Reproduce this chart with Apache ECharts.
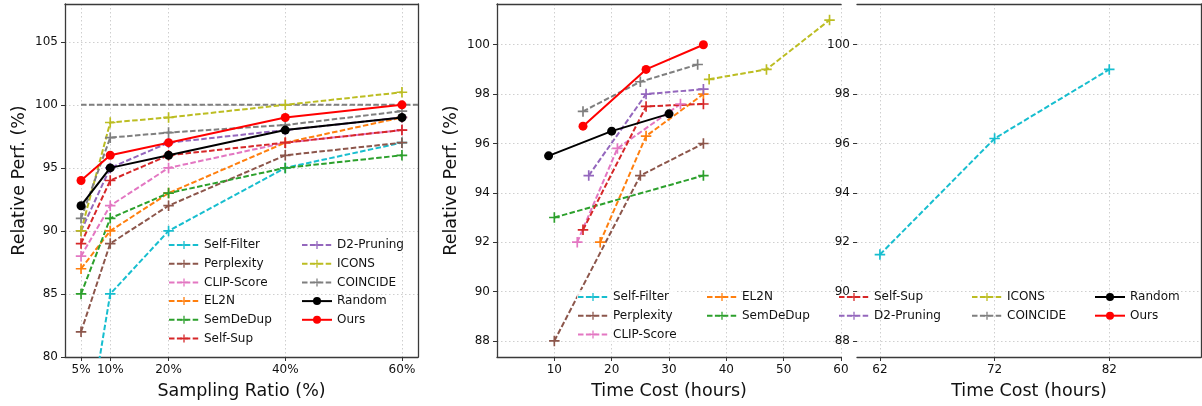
<!DOCTYPE html>
<html lang="en">
<head>
    <meta charset="UTF-8">
    <title>Relative Perf. vs Sampling Ratio / Time Cost</title>
    <script src="https://cdn.jsdelivr.net/npm/echarts@6/dist/echarts.min.js"></script>
    <style>
        html, body { margin: 0; padding: 0; background: #fff; }
        #chart { width: 1202px; height: 406px; }
    </style>
</head>
<body>
    <div id="chart"></div>
    <script>
        // ---- left panel: perf vs sampling ratio ----
        const ratios = [5, 10, 20, 40, 60];
        const ratioSelfFilter = [71, 85, 90, 95, 97];
        const ratioPerplexity = [82, 89, 92, 96, 97];
        const ratioClipScore = [88, 92, 95, 97, 98];
        const ratioEl2n = [87, 90, 93, 97, 99];
        const ratioSemDeDup = [85, 91, 93, 95, 96];
        const ratioSelfSup = [89, 94, 96, 97, 98];
        const ratioD2Pruning = [90, 95, 97, 98, 99];
        const ratioIcons = [90, 98.6, 99, 100, 101];
        const ratioCoincide = [91, 97.4, 97.8, 98.4, 99.5];
        const ratioRandom = [92, 95, 96, 98, 99];
        const ratioOurs = [94, 96, 97, 99, 100];
        const fullDataPerf = 100;

        // ---- middle/right panels: [hours, perf] ----
        const timeSelfFilter = [[62, 91.5], [72, 96.2], [82, 99]];
        const timePerplexity = [[10, 88], [25, 94.7], [36, 96]];
        const timeClipScore = [[14, 92], [21, 95.8], [32, 97.6]];
        const timeEl2n = [[18, 92], [26, 96.3], [36, 98]];
        const timeSemDeDup = [[10, 93], [36, 94.7]];
        const timeSelfSup = [[15, 92.5], [26, 97.5], [36, 97.6]];
        const timeD2Pruning = [[16, 94.7], [26, 98], [36, 98.2]];
        const timeIcons = [[37, 98.6], [47, 99], [58, 101]];
        const timeCoincide = [[15, 97.3], [25, 98.5], [35, 99.2]];
        const timeRandom = [[9, 95.5], [20, 96.5], [30, 97.2]];
        const timeOurs = [[15, 96.7], [26, 99], [36, 100]];

        // tick labels
        const ratioTicks = [5, 10, 20, 40, 60];
        const perfTicksLeft = [80, 85, 90, 95, 100, 105];
        const hourTicksMid = [10, 20, 30, 40, 50, 60];
        const hourTicksRight = [62, 72, 82];
        const perfTicksTime = [88, 90, 92, 94, 96, 98, 100];

        const methods = [
            { name: 'Self-Filter', color: '#17becf', ratio: ratioSelfFilter, time: timeSelfFilter, panel: 2 },
            { name: 'Perplexity', color: '#8c564b', ratio: ratioPerplexity, time: timePerplexity, panel: 1 },
            { name: 'CLIP-Score', color: '#e377c2', ratio: ratioClipScore, time: timeClipScore, panel: 1 },
            { name: 'EL2N', color: '#ff7f0e', ratio: ratioEl2n, time: timeEl2n, panel: 1 },
            { name: 'SemDeDup', color: '#2ca02c', ratio: ratioSemDeDup, time: timeSemDeDup, panel: 1 },
            { name: 'Self-Sup', color: '#d62728', ratio: ratioSelfSup, time: timeSelfSup, panel: 1 },
            { name: 'D2-Pruning', color: '#9467bd', ratio: ratioD2Pruning, time: timeD2Pruning, panel: 1 },
            { name: 'ICONS', color: '#bcbd22', ratio: ratioIcons, time: timeIcons, panel: 1 },
            { name: 'COINCIDE', color: '#7f7f7f', ratio: ratioCoincide, time: timeCoincide, panel: 1 },
            { name: 'Random', color: '#000000', ratio: ratioRandom, time: timeRandom, panel: 1, solid: true },
            { name: 'Ours', color: '#ff0000', ratio: ratioOurs, time: timeOurs, panel: 1, solid: true }
        ];

        const plusPath = 'path://M4.2,0 H5.8 V4.2 H10 V5.8 H5.8 V10 H4.2 V5.8 H0 V4.2 H4.2 Z';
        const spine = { show: true, lineStyle: { color: '#3a3a3a', width: 1.3 } };
        const tick = { show: true, inside: false, length: 4, lineStyle: { color: '#333', width: 1 } };
        const grid = { show: true, lineStyle: { color: '#cfcfcf', width: 1, type: [1.5, 2.5] } };
        const tickFont = { fontSize: 12, color: '#111', fontFamily: 'DejaVu Sans' };
        const nameFont = { fontSize: 17.5, color: '#111', fontFamily: 'DejaVu Sans' };

        function styleFor(m) {
            return {
                type: 'line',
                name: m.name,
                symbol: m.solid ? 'circle' : plusPath,
                symbolSize: m.solid ? 9 : 10.5,
                showSymbol: true,
                itemStyle: { color: m.color },
                lineStyle: { color: m.color, width: 2, type: m.solid ? 'solid' : [5.5, 2.4] },
                clip: true,
                z: m.solid ? 3 : 2
            };
        }

        const series = [];
        // full-data reference line (left panel)
        series.push({
            type: 'line', name: 'Full', xAxisIndex: 0, yAxisIndex: 0,
            data: [[ratios[0], fullDataPerf], [62.75, fullDataPerf]],
            showSymbol: false, symbol: 'none', clip: true,
            lineStyle: { color: '#7f7f7f', width: 2, type: [5.5, 2.4] }, z: 1
        });
        methods.forEach(m => {
            series.push(Object.assign(styleFor(m), {
                xAxisIndex: 0, yAxisIndex: 0,
                data: ratios.map((r, i) => [r, m.ratio[i]])
            }));
        });
        methods.forEach(m => {
            const xi = m.panel === 1 ? 2 : 4;
            const yi = m.panel === 1 ? 2 : 3;
            series.push(Object.assign(styleFor(m), {
                xAxisIndex: xi, yAxisIndex: yi, data: m.time
            }));
        });

        function legend(names, left, top, bg) {
            return {
                data: names, orient: 'vertical', left: left, top: top,
                padding: 0, itemWidth: 30, itemHeight: 10, itemGap: 4.7,
                selectedMode: false,
                backgroundColor: bg || 'transparent',
                textStyle: { fontSize: 12, color: '#111', fontFamily: 'DejaVu Sans', lineHeight: 14 }
            };
        }

        const option = {
            animation: false,
            textStyle: { fontFamily: 'DejaVu Sans' },
            grid: [
                { left: 65, top: 4, width: 353, height: 353 },
                { left: 497, top: 4, width: 344, height: 353 },
                { left: 857, top: 4, width: 344, height: 353 }
            ],
            xAxis: [
                { type: 'value', gridIndex: 0, position: 'bottom', min: 2.25, max: 62.75,
                  axisLine: Object.assign({ onZero: false }, spine), axisTick: Object.assign({ customValues: ratioTicks }, tick),
                  axisLabel: Object.assign({ customValues: ratioTicks, formatter: v => v + '%', margin: 7 }, tickFont),
                  splitLine: grid, name: 'Sampling Ratio (%)', nameLocation: 'middle', nameGap: 25, nameTextStyle: nameFont },
                { type: 'value', gridIndex: 0, position: 'top', min: 2.25, max: 62.75,
                  axisLine: spine, axisTick: { show: false }, axisLabel: { show: false }, splitLine: { show: false } },
                { type: 'value', gridIndex: 1, position: 'bottom', min: 0, max: 60,
                  axisLine: Object.assign({ onZero: false }, spine), axisTick: Object.assign({ customValues: hourTicksMid }, tick),
                  axisLabel: Object.assign({ customValues: hourTicksMid, margin: 7 }, tickFont),
                  splitLine: grid, name: 'Time Cost (hours)', nameLocation: 'middle', nameGap: 25, nameTextStyle: nameFont },
                { type: 'value', gridIndex: 1, position: 'top', min: 0, max: 60,
                  axisLine: spine, axisTick: { show: false }, axisLabel: { show: false }, splitLine: { show: false } },
                { type: 'value', gridIndex: 2, position: 'bottom', min: 60, max: 90,
                  axisLine: Object.assign({ onZero: false }, spine), axisTick: Object.assign({ customValues: hourTicksRight }, tick),
                  axisLabel: Object.assign({ customValues: hourTicksRight, margin: 7 }, tickFont),
                  splitLine: grid, name: 'Time Cost (hours)', nameLocation: 'middle', nameGap: 25, nameTextStyle: nameFont },
                { type: 'value', gridIndex: 2, position: 'top', min: 60, max: 90,
                  axisLine: spine, axisTick: { show: false }, axisLabel: { show: false }, splitLine: { show: false } }
            ],
            yAxis: [
                { type: 'value', gridIndex: 0, position: 'left', min: 80, max: 108,
                  axisLine: Object.assign({ onZero: false }, spine), axisTick: Object.assign({ customValues: perfTicksLeft }, tick),
                  axisLabel: Object.assign({ customValues: perfTicksLeft, margin: 7 }, tickFont),
                  splitLine: grid, name: 'Relative Perf. (%)', nameLocation: 'middle', nameGap: 37, nameTextStyle: nameFont },
                { type: 'value', gridIndex: 0, position: 'right', min: 80, max: 108,
                  axisLine: spine, axisTick: { show: false }, axisLabel: { show: false }, splitLine: { show: false } },
                { type: 'value', gridIndex: 1, position: 'left', min: 87.35, max: 101.65,
                  axisLine: Object.assign({ onZero: false }, spine), axisTick: Object.assign({ customValues: perfTicksTime }, tick),
                  axisLabel: Object.assign({ customValues: perfTicksTime, margin: 7 }, tickFont),
                  splitLine: grid, name: 'Relative Perf. (%)', nameLocation: 'middle', nameGap: 37, nameTextStyle: nameFont },
                { type: 'value', gridIndex: 2, position: 'left', min: 87.35, max: 101.65,
                  axisLine: { show: false, onZero: false }, axisTick: Object.assign({ customValues: perfTicksTime }, tick),
                  axisLabel: Object.assign({ customValues: perfTicksTime, margin: 7 }, tickFont),
                  splitLine: grid },
                { type: 'value', gridIndex: 2, position: 'right', min: 87.35, max: 101.65,
                  axisLine: spine, axisTick: { show: false }, axisLabel: { show: false }, splitLine: { show: false } }
            ],
            legend: [
                legend(['Self-Filter', 'Perplexity', 'CLIP-Score', 'EL2N', 'SemDeDup', 'Self-Sup'], 168, 238),
                legend(['D2-Pruning', 'ICONS', 'COINCIDE', 'Random', 'Ours'], 301, 238),
                legend(['Self-Filter', 'Perplexity', 'CLIP-Score'], 577, 290, 'rgba(255,255,255,0.8)'),
                legend(['EL2N', 'SemDeDup'], 706, 290),
                legend(['Self-Sup', 'D2-Pruning'], 838, 290),
                legend(['ICONS', 'COINCIDE'], 971, 290),
                legend(['Random', 'Ours'], 1094, 290)
            ],
            series: series
        };

        const chart = echarts.init(document.getElementById('chart'));
        chart.setOption(option);
    </script>
</body>
</html>
